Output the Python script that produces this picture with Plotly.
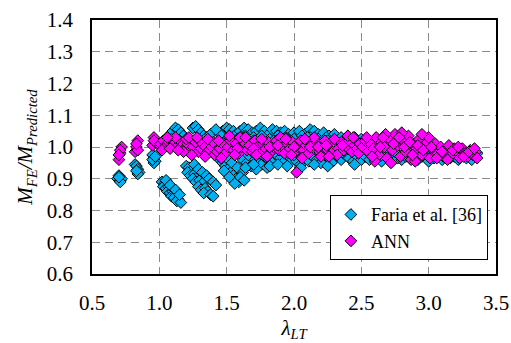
import plotly.graph_objects as go

# Faria et al. [36]
faria_x = [0.69, 0.70, 0.71, 0.72, 0.71, 0.70,
           0.82, 0.83, 0.84, 0.85, 0.84, 0.83,
           0.95, 0.96, 0.97, 0.96, 0.95, 0.97,
           1.02, 1.04, 1.03, 1.05, 1.07, 1.06, 1.08, 1.10, 1.09, 1.12, 1.11, 1.14, 1.13, 1.16, 1.05, 1.08, 1.12, 1.15,
           1.20, 1.22, 1.24, 1.21, 1.23, 1.26, 1.28, 1.25, 1.27, 1.30, 1.32, 1.29, 1.31, 1.34, 1.36, 1.33, 1.38, 1.40, 1.26, 1.29, 1.32, 1.35, 1.37, 1.40, 1.42,
           1.43, 1.45, 1.47, 1.49, 1.51, 1.53, 1.55, 1.57, 1.59, 1.46, 1.50, 1.54, 1.58, 1.62, 1.60, 1.63, 1.48, 1.52, 1.56,
           1.62, 1.65, 1.68, 1.70, 1.73, 1.76, 1.78, 1.81, 1.84, 1.87, 1.90, 1.93, 1.96, 1.99, 1.66, 1.74, 1.80, 1.72,
           1.08, 1.10, 1.12, 1.14, 1.16, 1.18, 1.25, 1.27, 1.29, 1.31, 1.33, 1.35, 1.38, 1.47, 1.50, 1.52, 1.55, 1.57, 1.60, 1.63, 1.66, 1.69, 1.72, 1.75, 1.78, 1.81, 1.84, 1.87, 1.90, 1.93, 1.96, 2.00, 2.04, 2.08, 2.12, 2.15, 2.18, 2.22, 2.26, 2.30, 2.35, 2.40, 2.45, 2.50, 2.56,
           1.52, 1.58, 1.64, 1.70, 1.76, 1.82, 1.88, 1.94, 2.00, 2.06, 2.12, 2.18, 2.24, 2.30, 1.45, 1.42,
           2.02, 2.05, 2.08, 2.11, 2.14, 2.17, 2.20, 2.23, 2.26, 2.29, 2.32, 2.35, 2.38, 2.41, 2.44, 2.47, 2.50, 2.10, 2.30, 2.00,
           1.64, 1.70, 1.82, 1.88, 1.95, 2.05, 2.15, 2.25, 2.45, 1.78, 1.92, 2.18, 2.36,
           2.53, 2.56, 2.59, 2.62, 2.65, 2.68, 2.71, 2.74, 2.77, 2.80, 2.83, 2.86, 2.89, 2.92, 2.95, 2.98, 3.01, 3.04, 3.07, 3.10, 3.13, 3.16, 3.19, 3.22, 3.25, 3.28, 3.31, 3.34, 3.36, 2.60, 2.70, 2.85, 3.00,
           2.55, 2.65, 2.75, 2.95, 3.05, 3.15, 3.25, 3.32,
           1.55, 1.65, 1.75, 1.85, 1.95, 2.05, 2.15, 2.25, 2.35, 2.45, 1.60, 1.70, 1.90, 2.10, 2.40]
faria_y = [0.90, 0.91, 0.895, 0.90, 0.89, 0.905,
           0.945, 0.94, 0.93, 0.92, 0.915, 0.925,
           0.975, 0.965, 0.955, 0.95, 0.96, 0.97,
           0.89, 0.885, 0.875, 0.87, 0.875, 0.86, 0.855, 0.86, 0.845, 0.85, 0.84, 0.835, 0.83, 0.825, 0.895, 0.88, 0.865, 0.85,
           0.94, 0.935, 0.925, 0.92, 0.91, 0.915, 0.905, 0.90, 0.89, 0.895, 0.885, 0.875, 0.865, 0.87, 0.86, 0.855, 0.85, 0.845, 0.945, 0.93, 0.92, 0.91, 0.90, 0.89, 0.88,
           0.97, 0.96, 0.95, 0.94, 0.93, 0.92, 0.91, 0.90, 0.89, 0.985, 0.965, 0.95, 0.935, 0.92, 0.905, 0.895, 0.925, 0.905, 0.885,
           0.96, 0.95, 0.94, 0.965, 0.955, 0.945, 0.97, 0.96, 0.95, 0.975, 0.965, 0.955, 0.97, 0.96, 0.975, 0.98, 0.935, 0.93,
           1.04, 1.05, 1.06, 1.055, 1.045, 1.035, 1.06, 1.065, 1.055, 1.045, 1.035, 1.03, 1.04, 1.05, 1.06, 1.055, 1.05, 1.04, 1.05, 1.06, 1.055, 1.045, 1.05, 1.06, 1.05, 1.04, 1.055, 1.05, 1.045, 1.05, 1.04, 1.045, 1.05, 1.04, 1.055, 1.05, 1.04, 1.045, 1.035, 1.04, 1.03, 1.035, 1.03, 1.025, 1.02,
           1.03, 1.025, 1.035, 1.03, 1.035, 1.025, 1.035, 1.03, 1.025, 1.035, 1.03, 1.025, 1.03, 1.02, 1.04, 1.055,
           0.955, 0.945, 0.965, 0.955, 0.97, 0.96, 0.95, 0.975, 0.965, 0.955, 0.97, 0.96, 0.975, 0.965, 0.955, 0.97, 0.96, 0.985, 0.985, 0.975,
           0.935, 0.945, 0.94, 0.945, 0.94, 0.935, 0.945, 0.94, 0.945, 0.99, 0.985, 0.985, 0.985,
           0.97, 0.96, 0.975, 0.965, 0.955, 0.97, 0.96, 0.975, 0.965, 0.96, 0.97, 0.965, 0.975, 0.96, 0.97, 0.965, 0.975, 0.965, 0.97, 0.96, 0.975, 0.965, 0.97, 0.96, 0.975, 0.965, 0.97, 0.975, 0.98, 0.99, 0.985, 0.985, 0.955,
           0.985, 0.975, 0.985, 0.98, 0.98, 0.98, 0.985, 0.96,
           1.0, 1.01, 0.995, 1.02, 1.0, 1.015, 1.0, 1.02, 1.0, 1.01, 1.03, 1.02, 1.03, 1.03, 0.995]

# ANN
ann_x = [0.70, 0.71, 0.72, 0.71, 0.70,
         0.82, 0.83, 0.84, 0.84, 0.83,
         0.95, 0.96, 0.97, 0.99, 0.96,
         1.01, 1.03, 1.05, 1.07, 1.09, 1.11, 1.13, 1.15, 1.17, 1.19, 1.21, 1.23, 1.25, 1.27, 1.29, 1.31, 1.33, 1.35, 1.37, 1.39, 1.41, 1.43, 1.45, 1.47, 1.49, 1.12, 1.06, 1.20, 1.30, 1.40, 1.24, 1.34, 1.46, 1.18,
         1.02, 1.08, 1.14, 1.22, 1.28, 1.36, 1.44,
         1.51, 1.53, 1.55, 1.57, 1.59, 1.61, 1.63, 1.65, 1.67, 1.69, 1.71, 1.73, 1.75, 1.77, 1.79, 1.81, 1.83, 1.85, 1.87, 1.89, 1.91, 1.93, 1.95, 1.97, 1.99, 2.01, 2.03, 2.05, 2.07, 2.09, 2.11, 2.13, 2.15, 2.17, 2.19, 2.21, 2.23, 2.25, 2.27, 2.29, 2.31, 2.33, 2.35, 2.37, 2.39, 2.41, 2.43, 2.45, 2.47, 2.49, 2.02, 2.06, 1.80, 2.20, 1.60, 1.90, 2.15, 2.40,
         1.52, 1.58, 1.64, 1.70, 1.76, 1.82, 1.88, 1.94, 2.00, 2.08, 2.12, 2.18, 2.24, 2.30, 2.36, 2.44, 2.48, 1.56, 1.72, 1.98, 2.32, 2.26,
         2.51, 2.53, 2.55, 2.57, 2.59, 2.61, 2.63, 2.65, 2.67, 2.69, 2.71, 2.73, 2.75, 2.77, 2.79, 2.81, 2.83, 2.85, 2.87, 2.89, 2.91, 2.93, 2.95, 2.97, 2.99, 3.01, 3.03, 3.05, 3.07, 3.09, 3.11, 3.13, 3.15, 3.17, 3.19, 3.21, 3.23, 3.25, 3.27, 3.29, 3.31, 3.33, 3.35, 3.36, 2.68, 2.80, 2.60, 2.90, 2.72, 3.00, 2.95,
         2.54, 2.58, 2.64, 2.66, 2.74, 2.78, 2.82, 2.86, 2.88, 2.92, 2.96, 3.02, 3.06, 3.10, 3.14, 3.18, 3.22, 3.26, 3.30, 3.34]
ann_y = [0.96, 0.98, 1.00, 0.99, 0.975,
         0.985, 1.0, 1.02, 0.99, 1.01,
         1.005, 1.03, 1.015, 1.01, 1.02,
         1.01, 1.02, 1.005, 1.015, 1.025, 1.01, 1.0, 1.02, 1.005, 0.995, 1.01, 0.99, 1.0, 1.015, 0.985, 0.995, 1.005, 0.98, 0.99, 1.0, 0.975, 0.985, 0.995, 1.01, 0.98, 1.03, 1.03, 1.025, 1.02, 1.015, 0.975, 0.97, 0.965, 0.985,
         0.99, 0.995, 0.99, 1.03, 1.03, 1.025, 1.02,
         1.0, 1.02, 0.99, 1.01, 0.98, 1.0, 1.015, 0.99, 1.005, 0.985, 1.02, 1.0, 0.98, 1.01, 0.995, 1.015, 0.985, 1.0, 1.02, 0.99, 1.005, 0.98, 1.01, 0.995, 1.015, 0.985, 1.0, 1.02, 0.99, 1.005, 0.98, 1.01, 0.995, 1.015, 0.985, 1.0, 1.02, 0.99, 1.005, 0.985, 1.01, 0.995, 1.015, 0.99, 1.0, 1.02, 0.985, 1.005, 0.995, 1.01, 0.92, 0.965, 0.97, 0.97, 1.03, 1.03, 1.03, 1.035,
         1.035, 0.995, 1.03, 0.995, 1.025, 1.0, 1.005, 1.025, 1.0, 1.025, 1.0, 1.0, 1.005, 1.025, 1.005, 1.03, 0.98, 0.975, 0.975, 0.975, 0.975, 0.97,
         1.0, 1.02, 0.985, 1.01, 0.995, 1.03, 0.975, 1.015, 1.0, 0.965, 1.025, 0.99, 1.04, 1.005, 0.97, 1.02, 0.985, 1.035, 0.96, 1.01, 0.995, 1.025, 0.975, 1.0, 1.015, 0.965, 0.99, 1.01, 0.98, 1.0, 0.97, 0.99, 1.005, 0.975, 0.995, 0.985, 0.965, 0.995, 0.98, 0.97, 0.99, 0.975, 0.985, 0.965, 1.04, 1.045, 0.955, 0.955, 0.95, 1.03, 1.04,
         1.03, 0.97, 1.0, 1.03, 1.01, 1.03, 1.0, 1.015, 0.975, 1.005, 0.99, 1.0, 0.965, 0.985, 0.96, 0.99, 1.0, 0.97, 0.985, 0.995]

x_ticks = [0.5, 1.0, 1.5, 2.0, 2.5, 3.0, 3.5]
y_ticks = [0.6, 0.7, 0.8, 0.9, 1.0, 1.1, 1.2, 1.3, 1.4]

font_family = "Liberation Serif"

fig = go.Figure()
fig.add_trace(go.Scatter(
    x=faria_x, y=faria_y, mode="markers", name="Faria et al. [36]",
    marker=dict(symbol="diamond", size=9, color="#00B0F0",
                line=dict(color="black", width=1))))
fig.add_trace(go.Scatter(
    x=ann_x, y=ann_y, mode="markers", name="ANN",
    marker=dict(symbol="diamond", size=9, color="#FF00FF",
                line=dict(color="black", width=1))))

axis_common = dict(
    showline=True, linecolor="black", linewidth=1.5, mirror=True,
    showgrid=True, gridcolor="#8a8a8a", gridwidth=1, griddash="8px,5px",
    zeroline=False, ticks="", automargin=False,
    tickfont=dict(family=font_family, size=21, color="black"),
)

fig.update_xaxes(range=[0.5, 3.5], tickvals=x_ticks,
                 ticktext=[f"{v:.1f}" for v in x_ticks],
                 ticklabelstandoff=9,
                 title=dict(text="<i>λ<sub>LT</sub></i>", font=dict(family=font_family, size=21, color="black"), standoff=6),
                 **axis_common)
fig.update_yaxes(range=[0.6, 1.4], tickvals=y_ticks,
                 ticktext=[f"{v:.1f}" for v in y_ticks],
                 ticklabelstandoff=13,
                 title=dict(text="<i>M<sub>FE</sub>/M<sub>Predicted</sub></i>", font=dict(family=font_family, size=21, color="black"), standoff=8),
                 **axis_common)

fig.update_layout(
    width=511, height=343,
    margin=dict(l=92, r=15, t=20, b=69, autoexpand=False),
    paper_bgcolor="white", plot_bgcolor="white",
    font=dict(family=font_family, color="black"),
    legend=dict(x=0.98, y=0.31, xanchor="right", yanchor="top",
                bgcolor="white", bordercolor="black", borderwidth=1,
                font=dict(family=font_family, size=18, color="black"),
                tracegroupgap=16, itemsizing="trace", itemwidth=30),
    showlegend=True,
)

fig.write_html("out.html")
